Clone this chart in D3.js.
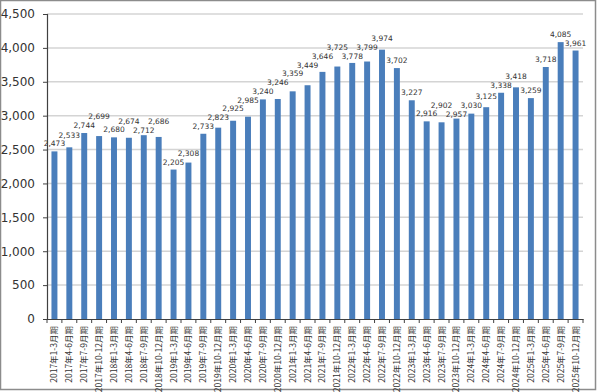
<!DOCTYPE html>
<html><head><meta charset="utf-8">
<script src="https://cdn.jsdelivr.net/npm/d3@7"></script>
<style>html,body{margin:0;padding:0;background:#fff;}svg{display:block;}</style>
</head><body>
<svg id="c" width="600" height="392"></svg>
<script>
const years = ["2017","2018","2019","2020","2021","2022","2023","2024","2025"];
const quarters = ["1-3月期","4-6月期","7-9月期","10-12月期"];
const categories = years.flatMap(y => quarters.map(q => y + "年" + q));
const values = [2473,2533,2744,2699,2680,2674,2712,2686,2205,2308,2733,2823,2925,2985,3240,3246,3359,3449,3646,3725,3778,3799,3974,3702,3227,2916,2902,2957,3030,3125,3338,3418,3259,3718,4085,3961];
const yTicks = [0,500,1000,1500,2000,2500,3000,3500,4000,4500];

(function(){
const svg = d3.select("#c");
svg.append("rect").attr("x",0.5).attr("y",0.5).attr("width",595).attr("height",389)
  .attr("fill","#fff").attr("stroke","#8c8c8c").attr("stroke-width",1.5);

const pl = 47, pr = 583, pt = 14, pb = 319;
const x = d3.scaleBand().domain(categories).range([pl, pr]).paddingInner(0.6).paddingOuter(0.3);
const y = d3.scaleLinear().domain([0, 4500]).range([pb, pt]);

// gridlines
svg.append("g").selectAll("line").data(yTicks.filter(t => t > 0)).join("line")
  .attr("x1", pl).attr("x2", pr)
  .attr("y1", d => y(d)).attr("y2", d => y(d))
  .attr("stroke", "#d4d4d4").attr("stroke-width", 1.5);

// bars
svg.append("g").selectAll("rect").data(values).join("rect")
  .attr("x", (d,i) => x(categories[i]))
  .attr("width", x.bandwidth())
  .attr("y", d => y(d))
  .attr("height", d => y(0) - y(d))
  .attr("fill", "#4a7ebb");

// data labels with simple collision avoidance (prefers moving up)
const labels = svg.append("g").selectAll("text").data(values).join("text")
  .attr("x", (d,i) => x(categories[i]) + x.bandwidth()/2)
  .attr("y", d => y(d) - 5)
  .attr("text-anchor", "middle")
  .attr("font-family", "DejaVu Sans, Verdana, sans-serif")
  .attr("font-size", 7.5)
  .attr("fill", "#333")
  .text(d => d3.format(",")(d));

const placed = [];
const cost = o => o < 0 ? -o : o * 2.5;
const offsets = d3.range(-40, 12.5, 0.5).sort((a,b) => cost(a) - cost(b) || a - b);
const minSep = 8.5;
labels.each(function(d, i) {
  const el = d3.select(this);
  const cx = +el.attr("x");
  const w = this.getComputedTextLength() + 1;
  const y0 = +el.attr("y");
  let chosen = y0;
  for (const o of offsets) {
    const yy = y0 + o;
    const hit = placed.some(p => Math.abs(p.cx - cx) < (p.w + w) / 2 && Math.abs(p.y - yy) < minSep);
    if (!hit) { chosen = yy; break; }
  }
  el.attr("y", chosen);
  placed.push({cx, w, y: chosen});
});

// y axis
const yAxis = d3.axisLeft(y).tickValues(yTicks).tickFormat(d3.format(",")).tickSize(4).tickPadding(8);
const gy = svg.append("g").attr("transform", `translate(${pl},0)`).call(yAxis);
gy.select(".domain").attr("stroke", "#404040").attr("stroke-width", 1.2);
gy.selectAll(".tick line").attr("stroke", "#404040");
gy.selectAll(".tick text").attr("font-family", "DejaVu Sans, Verdana, sans-serif")
  .attr("font-size", 12).attr("fill", "#333");

// x axis
const xAxis = d3.axisBottom(x).tickSize(0).tickPadding(0);
const gx = svg.append("g").attr("transform", `translate(0,${pb})`).call(xAxis);
gx.select(".domain").attr("stroke", "#404040").attr("stroke-width", 1.2);
const bounds = d3.range(categories.length + 1).map(i => pl + (pr - pl) * i / categories.length);
gx.append("g").selectAll("line").data(bounds).join("line")
  .attr("x1", d => d).attr("x2", d => d).attr("y1", 0).attr("y2", 4)
  .attr("stroke", "#404040");
gx.selectAll(".tick text")
  .attr("font-family", "Noto Sans CJK JP, sans-serif")
  .attr("font-size", 8.5).attr("fill", "#333")
  .attr("text-anchor", "end")
  .attr("dy", "0.35em")
  .attr("transform", "translate(0,7) rotate(-90)");
})();
</script>
</body></html>
